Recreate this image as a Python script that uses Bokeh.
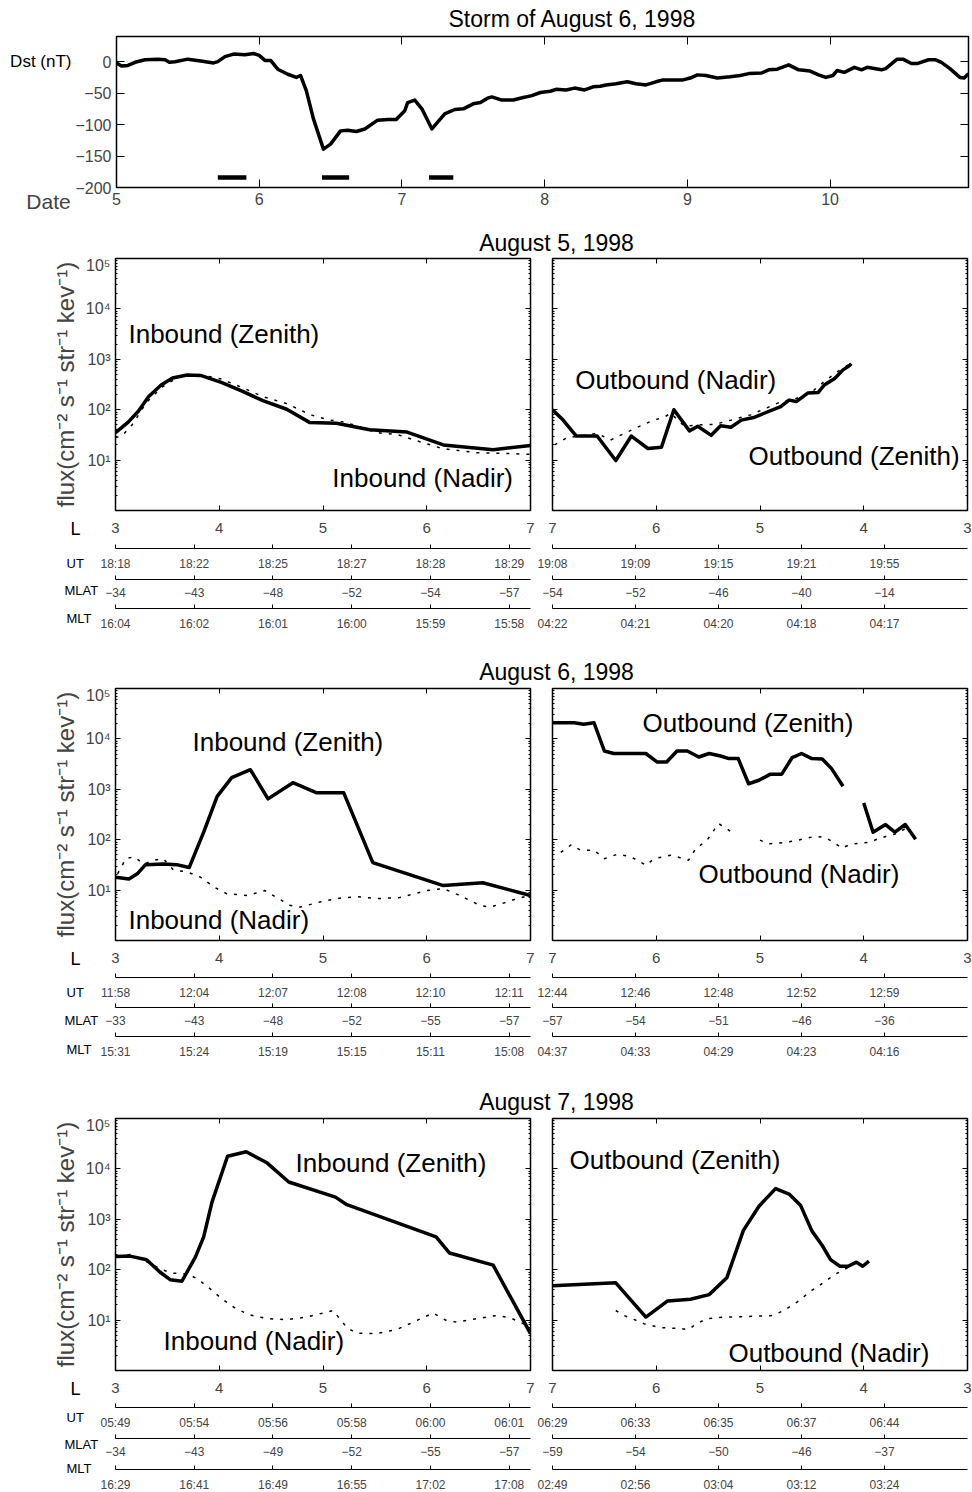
import numpy as np
from bokeh.plotting import figure
from bokeh.models import Range1d, LinearAxis, LogAxis, FixedTicker, CustomJSTickFormatter
from bokeh.layouts import column, row
from bokeh.embed import file_html
from bokeh.resources import INLINE
from bokeh.core.properties import value

FONT = "Liberation Sans"
MINUS = "\u2212"

# ---------------- Dst index, 5-10 August 1998 ----------------
dst_day = [5.00, 5.035, 5.08, 5.13, 5.20, 5.29, 5.34, 5.37, 5.41, 5.50, 5.59, 5.68, 5.71, 5.76, 5.82,
           5.90, 5.96, 6.00, 6.04, 6.08, 6.13, 6.20, 6.26, 6.29, 6.33, 6.38, 6.45, 6.50, 6.57, 6.62,
           6.68, 6.74, 6.83, 6.90, 6.96, 7.02, 7.04, 7.09, 7.14, 7.18, 7.21, 7.24, 7.30, 7.37, 7.43,
           7.50, 7.55, 7.60, 7.63, 7.70, 7.78, 7.85, 7.91, 7.97, 8.04, 8.08, 8.15, 8.21, 8.28, 8.34,
           8.39, 8.43, 8.50, 8.58, 8.64, 8.71, 8.78, 8.83, 8.90, 8.97, 9.02, 9.07, 9.13, 9.21, 9.30,
           9.37, 9.43, 9.52, 9.57, 9.63, 9.71, 9.78, 9.86, 9.92, 9.97, 10.02, 10.05, 10.10, 10.17,
           10.22, 10.26, 10.36, 10.39, 10.47, 10.51, 10.57, 10.61, 10.69, 10.74, 10.78, 10.84, 10.91,
           10.94, 10.97]
dst_nT = [-2, -7, -6, -1, 3, 4, 3, -1, 0, 4, 1, -2, 0, 8, 12,
          11, 13, 10, 2, 2, -12, -20, -25, -22, -46, -91, -139, -131, -110, -109,
          -111, -107, -93, -92, -92, -78, -65, -61, -75, -93, -107, -99, -83, -76, -75,
          -67, -65, -58, -56, -61, -61, -57, -54, -49, -47, -44, -45, -42, -45, -40,
          -39, -37, -35, -32, -35, -37, -32, -29, -29, -29, -26, -21, -22, -26, -24,
          -22, -19, -18, -13, -12, -5, -13, -15, -21, -25, -22, -14, -17, -9,
          -13, -9, -13, -11, 4, 4, -3, -3, 3, 3, -1, -11, -25,
          -26, -19]
pass_start = [5.71, 6.44, 7.19]
pass_end = [5.91, 6.63, 7.36]
pass_level = [-184, -184, -184]
dst_xticks = [5, 6, 7, 8, 9, 10]
dst_yticks = [-200, -150, -100, -50, 0]

# ---------------- Flux vs L ----------------
L_ticks = [3, 4, 5, 6, 7]
flux_ticks = [10, 100, 1000, 10000, 100000]
flux_labels = ["10\u00b9", "10\u00b2", "10\u00b3", "10\u2074", "10\u2075"]

# August 5 - inbound
a5_in_zen_L = [3.0, 3.12, 3.22, 3.32, 3.44, 3.55, 3.69, 3.82, 4.02, 4.22, 4.42, 4.65, 4.87, 5.13, 5.45, 5.81, 6.16, 6.64, 7.0]
a5_in_zen = [35, 56, 93, 182, 309, 427, 490, 479, 347, 234, 151, 102, 56, 54, 40, 36, 20, 16, 19.5]
a5_in_nad_L = [3.0, 3.06, 3.16, 3.3, 3.45, 3.6, 3.8, 4.02, 4.22, 4.42, 4.65, 4.88, 5.05, 5.22, 5.52, 5.72, 5.88, 6.15, 6.48, 6.81, 7.0]
a5_in_nad = [28, 30, 50, 141, 282, 437, 501, 407, 275, 182, 132, 79, 63, 56, 35, 32, 25, 17, 14, 13.5, 13]
# August 5 - outbound
a5_out_zen_L = [7.0, 6.9, 6.77, 6.57, 6.39, 6.24, 6.08, 5.95, 5.83, 5.68, 5.6, 5.47, 5.38, 5.28, 5.18, 5.05, 4.96,
                4.8, 4.72, 4.65, 4.54, 4.44, 4.38, 4.28, 4.2, 4.14, 4.12]
a5_out_zen = [100, 63, 30, 30, 9.8, 30, 17, 18, 100, 38, 47, 31, 48, 45, 62, 71, 85,
              115, 155, 145, 214, 219, 309, 417, 617, 741, 813]
a5_out_nad_L = [6.98, 6.86, 6.73, 6.57, 6.44, 6.32, 6.18, 6.05, 5.92, 5.86, 5.73, 5.57, 5.44, 5.28, 5.09, 4.83,
                4.64, 4.48, 4.38, 4.25, 4.15]
a5_out_nad = [20, 28, 30, 34, 25, 33, 45, 59, 72, 85, 47, 50, 51, 62, 79, 135, 170, 245, 363, 575, 776]

# August 6 - inbound
a6_in_zen_L = [3.0, 3.13, 3.21, 3.29, 3.46, 3.59, 3.71, 3.85, 3.98, 4.12, 4.3, 4.47, 4.71, 4.94, 5.2, 5.48, 6.16, 6.54, 7.0]
a6_in_zen = [18, 16.6, 21, 32, 33, 32, 28, 141, 724, 1700, 2450, 646, 1350, 851, 851, 35, 12.3, 14, 7.8]
a6_in_nad_L = [3.02, 3.1, 3.18, 3.27, 3.37, 3.46, 3.56, 3.69, 3.82, 3.95, 4.07, 4.27, 4.44, 4.55, 4.68, 4.78, 4.97,
               5.13, 5.32, 5.52, 5.74, 6.0, 6.16, 6.32, 6.51, 6.61, 6.75, 6.87, 7.0]
a6_in_nad = [21, 42, 46, 33, 39, 42, 25, 23, 18, 11.5, 8.5, 7.8, 9.8, 7.2, 5.0, 4.6, 5.8,
             6.8, 7.4, 6.8, 7.1, 9.8, 10.7, 7.8, 5.0, 4.6, 5.6, 6.8, 7.9]
# August 6 - outbound (None = data gap)
a6_out_zen_L = [7.0, 6.79, 6.7, 6.6, 6.5, 6.41, 6.1, 5.99, 5.9, 5.8, 5.7, 5.59, 5.49, 5.38, 5.3, 5.21, 5.11, 5.01,
                4.9, 4.79, 4.69, 4.6, 4.5, 4.4, 4.31, 4.2, None, 4.0, 3.91, 3.79, 3.7, 3.6, 3.5]
a6_out_zen = [20900, 20900, 19500, 20900, 5750, 5130, 5130, 3470, 3470, 5750, 5750, 4370, 5130, 4570, 4070, 4070,
              1290, 1510, 2000, 2000, 4270, 5130, 4070, 3980, 2570, 1150, None, 537, 141, 200, 141, 200, 102]
a6_out_nad_L = [6.92, 6.82, 6.73, 6.6, 6.5, 6.38, 6.26, 6.18, 6.1, 6.02, 5.86, 5.77, 5.69, 5.62, 5.51, 5.4, 5.32,
                5.24, None, 5.0, 4.92, 4.74, 4.56, 4.47, 4.37, 4.29, 4.21, 4.13, 4.04, 3.94, 3.86, 3.78, 3.68,
                3.6, 3.54]
a6_out_nad = [56, 79, 62, 62, 42, 51, 47, 39, 31, 42, 49, 44, 39, 66, 98, 209, 166,
              123, None, 98, 83, 89, 105, 117, 110, 89, 68, 81, 85, 89, 105, 117, 132,
              166, 178]

# August 7 - inbound
a7_in_zen_L = [3.0, 3.14, 3.3, 3.43, 3.53, 3.64, 3.77, 3.85, 3.93, 4.08, 4.26, 4.46, 4.67, 5.12, 5.23, 6.09, 6.22, 6.64, 7.0]
a7_in_zen = [182, 186, 158, 89, 63, 59, 178, 447, 2190, 17800, 21900, 13200, 5500, 2750, 1950, 447, 214, 123, 5.4]
a7_in_nad_L = [3.02, 3.14, 3.24, 3.46, 3.56, 3.69, 3.79, 3.91, 4.03, 4.14, 4.28, 4.46, 4.65, 4.84, 5.0, 5.1, 5.16,
               5.23, 5.32, 5.52, 5.71, 5.87, 6.06, 6.19, 6.29, 6.48, 6.67, 6.8, 6.93, 7.0]
a7_in_nad = [178, 200, 166, 98, 85, 83, 66, 42, 26, 18, 12.9, 10.7, 10.2, 11.5, 13.8, 15.5, 10.7,
             7.1, 5.5, 5.4, 6.5, 9.1, 13.8, 9.8, 9.1, 10.7, 12.3, 11.2, 8.5, 7.1]
# August 7 - outbound
a7_out_zen_L = [7.0, 6.39, 6.10, 5.89, 5.67, 5.49, 5.32, 5.16, 5.01, 4.85, 4.72, 4.61, 4.5, 4.4, 4.32, 4.23, 4.15,
                4.07, 4.01, 3.95]
a7_out_zen = [48, 55, 11.5, 24, 26, 32, 69, 603, 1820, 4070, 3160, 1910, 589, 302, 158, 117, 117, 141, 117, 148]
a7_out_nad_L = [6.39, 6.31, 6.21, 6.12, 5.96, 5.77, 5.69, 5.61, 5.51, 5.35, 5.16, 4.88, 4.77, 4.64, 4.5, 4.39,
                4.29, 4.2, 4.13]
a7_out_nad = [15.5, 12.3, 10.2, 8.5, 7.1, 6.8, 6.5, 8.5, 10.7, 11.5, 11.7, 12.3, 15.5, 23, 39, 55, 78, 98, 117]

# Orbit ephemeris rows (UT, MLAT, MLT)
a5_ut_in = ["18:18", "18:22", "18:25", "18:27", "18:28", "18:29"]
a5_mlat_in = [MINUS + "34", MINUS + "43", MINUS + "48", MINUS + "52", MINUS + "54", MINUS + "57"]
a5_mlt_in = ["16:04", "16:02", "16:01", "16:00", "15:59", "15:58"]
a5_ut_out = ["19:08", "19:09", "19:15", "19:21", "19:55"]
a5_mlat_out = [MINUS + "54", MINUS + "52", MINUS + "46", MINUS + "40", MINUS + "14"]
a5_mlt_out = ["04:22", "04:21", "04:20", "04:18", "04:17"]
a6_ut_in = ["11:58", "12:04", "12:07", "12:08", "12:10", "12:11"]
a6_mlat_in = [MINUS + "33", MINUS + "43", MINUS + "48", MINUS + "52", MINUS + "55", MINUS + "57"]
a6_mlt_in = ["15:31", "15:24", "15:19", "15:15", "15:11", "15:08"]
a6_ut_out = ["12:44", "12:46", "12:48", "12:52", "12:59"]
a6_mlat_out = [MINUS + "57", MINUS + "54", MINUS + "51", MINUS + "46", MINUS + "36"]
a6_mlt_out = ["04:37", "04:33", "04:29", "04:23", "04:16"]
a7_ut_in = ["05:49", "05:54", "05:56", "05:58", "06:00", "06:01"]
a7_mlat_in = [MINUS + "34", MINUS + "43", MINUS + "49", MINUS + "52", MINUS + "55", MINUS + "57"]
a7_mlt_in = ["16:29", "16:41", "16:49", "16:55", "17:02", "17:08"]
a7_ut_out = ["06:29", "06:33", "06:35", "06:37", "06:44"]
a7_mlat_out = [MINUS + "59", MINUS + "54", MINUS + "50", MINUS + "46", MINUS + "37"]
a7_mlt_out = ["02:49", "02:56", "03:04", "03:12", "03:24"]

# Panel annotations (text, L, flux)
a5_in_text = [("Inbound (Zenith)", 3.125, 3250), ("Inbound (Nadir)", 5.09, 4.5)]
a5_out_text = [("Outbound (Nadir)", 6.78, 380), ("Outbound (Zenith)", 5.11, 12.3)]
a6_in_text = [("Inbound (Zenith)", 3.742, 8500), ("Inbound (Nadir)", 3.125, 2.5)]
a6_out_text = [("Outbound (Zenith)", 6.133, 20400), ("Outbound (Nadir)", 5.593, 21)]
a7_in_text = [("Inbound (Zenith)", 4.735, 12800), ("Inbound (Nadir)", 3.463, 3.9)]
a7_out_text = [("Outbound (Zenith)", 6.836, 14800), ("Outbound (Nadir)", 5.304, 2.2)]

minor_flux = [m * 10 ** e for e in range(0, 5) for m in range(2, 10)]

# ---------------- layout geometry (pixels) ----------------
PAGE_W = 972
EPH_H = 120
FRAME_IN = 115          # left edge of inbound panel frame
FRAME_OUT = 552         # left edge of outbound panel frame
PANEL_W = 415
SEQ_IN, SEQ_OUT = 5.27, 5.0
# per-row vertical offsets inside the ephemeris strip (px from its top)
EPH_LINES = [(36, 67, 96), (35, 65, 94), (35, 66, 97)]
EPH_NAMES = [(16, 51, 78, 106), (16, 50, 78, 107), (16, 45, 72, 96)]


def arr(v):
    return np.array([np.nan if q is None else q for q in v], dtype=float)


def blank():
    return CustomJSTickFormatter(code="return ''")


def ticks_in(ax, n, minor=0):
    ax.major_tick_in = n
    ax.major_tick_out = 0
    ax.major_tick_line_color = "black"
    ax.major_tick_line_width = 1
    ax.minor_tick_in = minor
    ax.minor_tick_out = 0
    ax.minor_tick_line_color = "black" if minor else None
    ax.axis_line_color = None


def hide_labels(ax):
    ax.formatter = blank()
    ax.major_label_text_font_size = "0px"
    ax.major_label_standoff = 0


def bare(p):
    p.outline_line_color = None
    p.grid.visible = False


def text_fig(w, h, items):
    """A plain text strip; coordinates in pixels from its top-left corner."""
    t = figure(width=w, height=h, x_range=Range1d(0, w), y_range=Range1d(h, 0), min_border=0,
               toolbar_location=None, output_backend="svg")
    bare(t)
    t.axis.visible = False
    for txt, x, y, size, align in items:
        t.text(x=[x], y=[y], text=[txt], text_font=value(FONT), text_font_size=size,
               text_align=align, text_baseline="middle", text_color="black")
    return t


# ---------------- Dst figure ----------------
dst = figure(frame_width=852, frame_height=151, x_range=Range1d(5, 10.97), y_range=Range1d(-200, 40),
             min_border_left=43, min_border_right=5, min_border_top=4, min_border_bottom=39,
             toolbar_location=None, output_backend="svg")
dst.grid.visible = False
dst.outline_line_color = "black"
dst.outline_line_width = 1.5
xa = dst.xaxis[0]
xa.ticker = FixedTicker(ticks=dst_xticks)
ticks_in(xa, 8)
xa.major_label_text_font = FONT
xa.major_label_text_font_size = "16px"
xa.major_label_standoff = 5
ya = dst.yaxis[0]
ya.ticker = FixedTicker(ticks=dst_yticks)
ya.major_label_overrides = {v: str(v).replace("-", MINUS) for v in dst_yticks}
ticks_in(ya, 8)
ya.major_label_text_font = FONT
ya.major_label_text_font_size = "16px"
ya.major_label_standoff = 5
top = LinearAxis(ticker=FixedTicker(ticks=dst_xticks))
ticks_in(top, 8)
hide_labels(top)
dst.add_layout(top, "above")
rgt = LinearAxis(ticker=FixedTicker(ticks=dst_yticks))
ticks_in(rgt, 8)
hide_labels(rgt)
dst.add_layout(rgt, "right")
dst.line(dst_day, dst_nT, line_width=3.5, line_color="black", line_join="round")
dst.segment(x0=pass_start, y0=pass_level, x1=pass_end, y1=pass_level, line_width=4.5, line_color="black")

# side strip with "Dst (nT)" and "Date" (shares the Dst vertical scale)
dst_side = figure(frame_width=72, frame_height=151, x_range=Range1d(0, 72), y_range=Range1d(-200, 40),
                  min_border_left=0, min_border_right=0, min_border_top=4, min_border_bottom=39,
                  toolbar_location=None, output_backend="svg")
bare(dst_side)
dst_side.yaxis.visible = False
sa = dst_side.xaxis[0]
sa.ticker = FixedTicker(ticks=[48])
sa.major_label_overrides = {48: "Date"}
sa.major_tick_in = 0
sa.major_tick_out = 0
sa.minor_tick_out = 0
sa.major_tick_line_color = None
sa.minor_tick_line_color = None
sa.axis_line_color = None
sa.major_label_text_font = FONT
sa.major_label_text_font_size = "21px"
sa.major_label_standoff = 2
dst_side.text(x=[71], y=[0], text=["Dst (nT)"], text_font=value(FONT), text_font_size="17px",
              text_align="right", text_baseline="middle", text_color="black")


# ---------------- flux panels ----------------
def panel_fig(inbound, xr, zen_L, zen, nad_L, nad, texts):
    p = figure(frame_width=PANEL_W, frame_height=252, x_range=xr,
               y_range=Range1d(1, 1e5), y_axis_type="log",
               min_border_left=FRAME_IN if inbound else 11,
               min_border_right=11 if inbound else 5,
               min_border_top=2, min_border_bottom=2,
               toolbar_location=None, output_backend="svg")
    p.grid.visible = False
    p.outline_line_color = "black"
    p.outline_line_width = 1.5

    xa = p.xaxis[0]
    xa.ticker = FixedTicker(ticks=L_ticks)
    ticks_in(xa, 5)
    hide_labels(xa)
    ta = LinearAxis(ticker=FixedTicker(ticks=L_ticks))
    ticks_in(ta, 5)
    hide_labels(ta)
    p.add_layout(ta, "above")

    ya = p.yaxis[0]
    ya.ticker = FixedTicker(ticks=flux_ticks, minor_ticks=minor_flux)
    ticks_in(ya, 5, 2)
    if inbound:
        ya.major_label_overrides = dict(zip(flux_ticks, flux_labels))
        ya.major_label_text_font = FONT
        ya.major_label_text_font_size = "16px"
        ya.major_label_standoff = 5
        ya.axis_label = "flux(cm\u207b\u00b2 s\u207b\u00b9 str\u207b\u00b9 kev\u207b\u00b9)"
        ya.axis_label_text_font = FONT
        ya.axis_label_text_font_size = "24px"
        ya.axis_label_text_font_style = "normal"
        ya.axis_label_standoff = 4
    else:
        hide_labels(ya)
    ra = LogAxis(ticker=FixedTicker(ticks=flux_ticks, minor_ticks=minor_flux))
    ticks_in(ra, 5, 2)
    hide_labels(ra)
    p.add_layout(ra, "right")

    p.line(arr(nad_L), arr(nad), line_width=1.5, line_color="black", line_dash="3 7")
    p.line(arr(zen_L), arr(zen), line_width=3.5, line_color="black", line_join="round")
    for txt, lx, fy in texts:
        p.text(x=[lx], y=[fy], text=[txt], text_font=value(FONT), text_font_size="26px",
               text_align="left", text_baseline="middle", text_color="black")
    return p


# ---------------- ephemeris strip under a pair of panels ----------------
def eph_fig(rows_in, rows_out, lines, names):
    e = figure(width=PAGE_W, height=EPH_H, x_range=Range1d(0, PAGE_W), y_range=Range1d(EPH_H, 0),
               min_border=0, toolbar_location=None, output_backend="svg")
    bare(e)
    e.axis.visible = False
    kL = PANEL_W / 4.0
    k_in = PANEL_W / SEQ_IN
    k_out = PANEL_W / SEQ_OUT
    e.extra_x_ranges = {
        "L_in": Range1d(3 - FRAME_IN / kL, 3 + (PAGE_W - FRAME_IN) / kL),
        "L_out": Range1d(7 + FRAME_OUT / kL, 7 - (PAGE_W - FRAME_OUT) / kL),
        "seq_in": Range1d(-FRAME_IN / k_in, (PAGE_W - FRAME_IN) / k_in),
        "seq_out": Range1d(-FRAME_OUT / k_out, (PAGE_W - FRAME_OUT) / k_out),
    }
    # L labels under each panel
    for rn in ("L_in", "L_out"):
        ax = LinearAxis(x_range_name=rn, ticker=FixedTicker(ticks=L_ticks), fixed_location=2, bounds=(3, 7))
        ax.axis_line_color = None
        ax.major_tick_line_color = None
        ax.minor_tick_line_color = None
        ax.major_tick_in = 0
        ax.major_tick_out = 0
        ax.major_label_text_font = FONT
        ax.major_label_text_font_size = "15px"
        ax.major_label_standoff = 8
        e.add_layout(ax, "below")
    # UT / MLAT / MLT
    for rn, seq_max, rows in (("seq_in", SEQ_IN, rows_in), ("seq_out", SEQ_OUT, rows_out)):
        for k, labels in enumerate(rows):
            ax = LinearAxis(x_range_name=rn, ticker=FixedTicker(ticks=list(range(len(labels)))),
                            major_label_overrides={i: s for i, s in enumerate(labels)},
                            fixed_location=lines[k], bounds=(0, seq_max))
            ax.axis_line_color = "black"
            ax.axis_line_width = 1
            ax.major_tick_line_color = "black"
            ax.major_tick_in = 4
            ax.major_tick_out = 0
            ax.minor_tick_line_color = None
            ax.major_label_text_font = FONT
            ax.major_label_text_font_size = "12px"
            ax.major_label_standoff = 8
            e.add_layout(ax, "below")
    # row names
    for (txt, x, size), y in zip([("L", 70, "18px"), ("UT", 66, "13px"), ("MLAT", 64, "13px"), ("MLT", 66, "13px")], names):
        e.text(x=[x], y=[y], text=[txt], text_font=value(FONT), text_font_size=size,
               text_align="left", text_baseline="middle", text_color="black")
    return e


def day_block(title_h, title, title_y, in_data, out_data, k):
    xin, xout = Range1d(3, 7), Range1d(7, 3)
    zL, z, nL, n, ut, mlat, mlt, txt = in_data
    zL2, z2, nL2, n2, ut2, mlat2, mlt2, txt2 = out_data
    return [
        text_fig(PAGE_W, title_h, [(title, 556, title_y, "23px", "center")]),
        row(panel_fig(True, xin, zL, z, nL, n, txt), panel_fig(False, xout, zL2, z2, nL2, n2, txt2)),
        eph_fig([ut, mlat, mlt], [ut2, mlat2, mlt2], EPH_LINES[k], EPH_NAMES[k]),
    ]


blocks = []
blocks += day_block(30, "August 5, 1998", 16,
                    (a5_in_zen_L, a5_in_zen, a5_in_nad_L, a5_in_nad, a5_ut_in, a5_mlat_in, a5_mlt_in, a5_in_text),
                    (a5_out_zen_L, a5_out_zen, a5_out_nad_L, a5_out_nad, a5_ut_out, a5_mlat_out, a5_mlt_out, a5_out_text),
                    0)
blocks += day_block(54, "August 6, 1998", 39,
                    (a6_in_zen_L, a6_in_zen, a6_in_nad_L, a6_in_nad, a6_ut_in, a6_mlat_in, a6_mlt_in, a6_in_text),
                    (a6_out_zen_L, a6_out_zen, a6_out_nad_L, a6_out_nad, a6_ut_out, a6_mlat_out, a6_mlt_out, a6_out_text),
                    1)
blocks += day_block(54, "August 7, 1998", 39,
                    (a7_in_zen_L, a7_in_zen, a7_in_nad_L, a7_in_nad, a7_ut_in, a7_mlat_in, a7_mlt_in, a7_in_text),
                    (a7_out_zen_L, a7_out_zen, a7_out_nad_L, a7_out_nad, a7_ut_out, a7_mlat_out, a7_mlt_out, a7_out_text),
                    2)

layout = column(text_fig(PAGE_W, 32, [("Storm of August 6, 1998", 572, 18, "23px", "center")]),
                row(dst_side, dst),
                *blocks)

open("out.html", "w").write(file_html(layout, INLINE))
